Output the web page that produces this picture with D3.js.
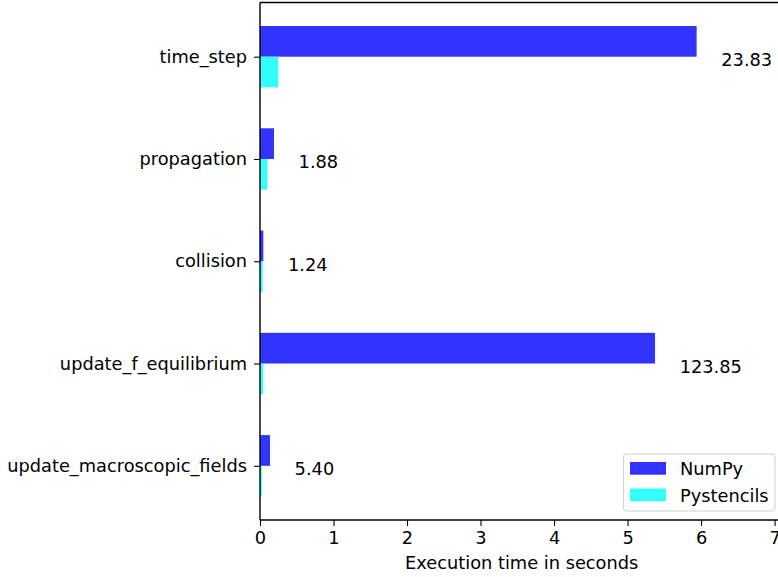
<!DOCTYPE html>
<html>
<head>
<meta charset="utf-8">
<script src="https://cdn.jsdelivr.net/npm/d3@7"></script>
<style>
  body { margin: 0; background: #fff; }
  svg { display: block; }
  text { font-family: "DejaVu Sans", sans-serif; fill: #000; }
</style>
</head>
<body>
<svg id="chart" width="778" height="577"></svg>
<script>
// Categories listed bottom to top (index 0 at the bottom)
const categories = ["update_macroscopic_fields", "update_f_equilibrium", "collision", "propagation", "time_step"];
const numpyTimes = [0.136, 5.374, 0.045, 0.190, 5.940];
const pystencilsTimes = [0.025, 0.0434, 0.036, 0.101, 0.249];
const speedupLabels = ["5.40", "123.85", "1.24", "1.88", "23.83"];
const xTicks = [0, 1, 2, 3, 4, 5, 6, 7];
const seriesNames = ["NumPy", "Pystencils"];
const seriesColors = ["#3333ff", "#33ffff"];

(function () {
const FS = 17.8;
const svg = d3.select("#chart");
const pL = 260, pT = 2.5, pB = 520;
const xMax = 7.12;
const pR = pL + 73.51 * xMax;

const x = d3.scaleLinear().domain([0, xMax]).range([pL, pR]);
const y = d3.scaleLinear().domain([-0.53, 4.53]).range([pB, pT]);
const barH = 0.3;

// Bars
const g = svg.append("g");
categories.forEach((c, i) => {
  g.append("rect")
    .attr("x", x(0)).attr("y", y(i + barH))
    .attr("width", x(numpyTimes[i]) - x(0))
    .attr("height", y(i) - y(i + barH))
    .attr("fill", seriesColors[0]);
  g.append("rect")
    .attr("x", x(0)).attr("y", y(i))
    .attr("width", x(pystencilsTimes[i]) - x(0))
    .attr("height", y(i - barH) - y(i))
    .attr("fill", seriesColors[1]);
  g.append("text")
    .attr("x", x(numpyTimes[i] + 0.335))
    .attr("y", y(i) + 9.4)
    .attr("font-size", FS)
    .attr("text-anchor", "start")
    .text(speedupLabels[i]);
});

// Spines
svg.append("line").attr("x1", pL).attr("x2", pR).attr("y1", pT).attr("y2", pT)
  .attr("stroke", "#000").attr("stroke-width", 1.4);
svg.append("line").attr("x1", pL).attr("x2", pR).attr("y1", pB).attr("y2", pB)
  .attr("stroke", "#000").attr("stroke-width", 1.4);
svg.append("line").attr("x1", pL).attr("x2", pL).attr("y1", pT).attr("y2", pB)
  .attr("stroke", "#000").attr("stroke-width", 1.4);

// X axis
const xAxis = svg.append("g").attr("transform", `translate(0,${pB})`)
  .call(d3.axisBottom(x).tickValues(xTicks).tickFormat(d3.format("d")).tickSize(6).tickPadding(5));
xAxis.select(".domain").remove();
xAxis.selectAll(".tick line").attr("stroke", "#000").attr("stroke-width", 1.1);
xAxis.selectAll(".tick text").attr("font-size", FS).attr("font-family", "DejaVu Sans").attr("fill", "#000");

// Y axis
const yAxis = svg.append("g").attr("transform", `translate(${pL},0)`)
  .call(d3.axisLeft(y).tickValues(d3.range(categories.length)).tickFormat(i => categories[i]).tickSize(6).tickPadding(7));
yAxis.select(".domain").remove();
yAxis.selectAll(".tick line").attr("stroke", "#000").attr("stroke-width", 1.1);
yAxis.selectAll(".tick text").attr("font-size", FS).attr("font-family", "DejaVu Sans").attr("fill", "#000");

// X label
svg.append("text").attr("x", (pL + pR) / 2).attr("y", 569)
  .attr("text-anchor", "middle").attr("font-size", FS)
  .text("Execution time in seconds");

// Legend
const lg = svg.append("g");
lg.append("rect").attr("x", 623.5).attr("y", 454).attr("width", 151.5).attr("height", 57)
  .attr("rx", 3).attr("fill", "#fff").attr("fill-opacity", 0.8)
  .attr("stroke", "#d0d0d0").attr("stroke-width", 1);
seriesNames.forEach((s, k) => {
  const yy = 462 + k * 26.5;
  lg.append("rect").attr("x", 630).attr("y", yy).attr("width", 36).attr("height", 12.7)
    .attr("fill", seriesColors[k]);
  lg.append("text").attr("x", 680).attr("y", yy + 13).attr("font-size", FS).text(s);
});
})();
</script>
</body>
</html>
